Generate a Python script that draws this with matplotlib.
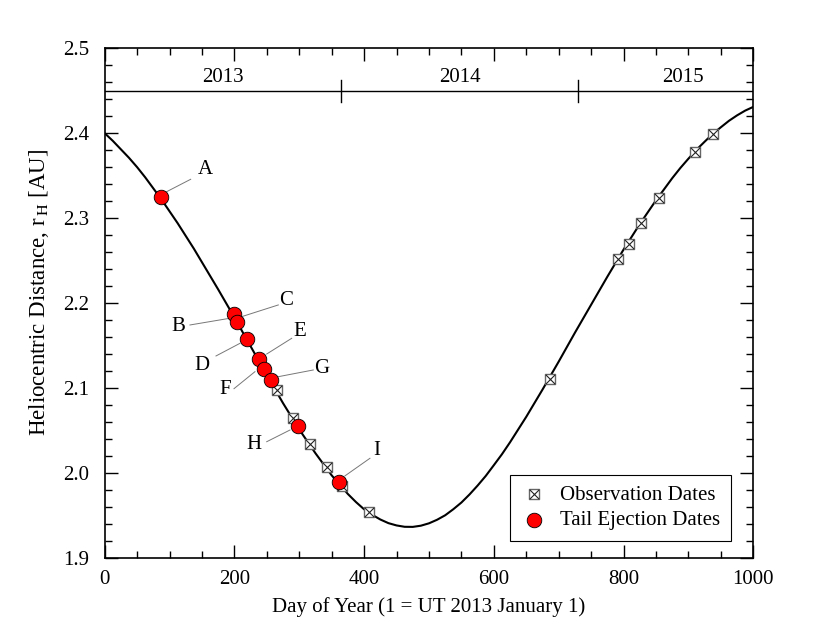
import numpy as np
import matplotlib
matplotlib.use('Agg')
import matplotlib.pyplot as plt
from matplotlib.ticker import MultipleLocator, FormatStrFormatter
from matplotlib.legend_handler import HandlerTuple

plt.rcParams['font.family'] = ['Liberation Serif', 'DejaVu Serif']
plt.rcParams['mathtext.fontset'] = 'stix'

# orbit curve
orbit_day = [0, 12.5, 25, 37.5, 50, 62.5, 75, 87.5, 100, 112.5, 125, 137.5,
             150, 162.5, 175, 200, 225, 250, 275, 300, 325, 350, 375, 387.5,
             400, 412.5, 425, 437.5, 450, 462.5, 475, 487.5, 500, 512.5, 525,
             537.5, 550, 562.5, 575, 587.5, 600, 612.5, 625, 650, 675, 700,
             725, 750, 775, 800, 825, 850, 875, 887.5, 900, 912.5, 925, 937.5,
             950, 962.5, 975, 987.5, 1000]
orbit_r = [2.400, 2.391, 2.381, 2.371, 2.360, 2.348, 2.335, 2.322, 2.308,
           2.294, 2.279, 2.264, 2.248, 2.232, 2.216, 2.183, 2.149, 2.115,
           2.082, 2.051, 2.023, 1.997, 1.975, 1.9655, 1.957, 1.9505, 1.945,
           1.9407, 1.938, 1.9364, 1.9363, 1.9377, 1.9405, 1.9447, 1.950,
           1.9571, 1.965, 1.9745, 1.985, 1.9963, 2.009, 2.0219, 2.036, 2.066,
           2.098, 2.131, 2.165, 2.198, 2.231, 2.263, 2.293, 2.321, 2.347,
           2.359, 2.370, 2.3806, 2.390, 2.3992, 2.407, 2.4146, 2.421, 2.4266,
           2.431]

# observation dates
obs_day = [265.2, 290.8, 316.5, 342.3, 365.4, 407.5, 686.7,
           791.9, 808.3, 826.4, 854.2, 910.1, 938.3]
obs_r = [2.097, 2.065, 2.034, 2.0065, 1.984, 1.954, 2.110,
         2.2515, 2.270, 2.294, 2.324, 2.3775, 2.399]

# tail ejection dates
tail_names = ['A', 'B', 'C', 'D', 'E', 'F', 'G', 'H', 'I']
tail_day = [86.3, 199.4, 204.4, 219.9, 238.4, 246.1, 255.9, 298.0, 361.2]
tail_r = [2.325, 2.187, 2.178, 2.1576, 2.1337, 2.1226, 2.1093, 2.0551, 1.9888]

# label text positions and leader lines
label_x = [154.6, 113.5, 279.1, 150.5, 301.1, 185.5, 334.6, 230.7, 419.4]
label_y = [2.3567, 2.1721, 2.2035, 2.1258, 2.1662, 2.0984, 2.1223, 2.0328, 2.0260]
leader_x0 = [95.6, 131.5, 211.2, 171.6, 249.8, 199.4, 267.7, 249.8, 370.5]
leader_x1 = [132.6, 192.9, 267.7, 208.6, 288.3, 231.7, 321.6, 285.7, 409.0]
leader_y0 = [2.3311, 2.1741, 2.1839, 2.1376, 2.1399, 2.0991, 2.1132, 2.0366, 1.9964]
leader_y1 = [2.3457, 2.1820, 2.1977, 2.1525, 2.1584, 2.1191, 2.1211, 2.0504, 2.0171]

# year bar
year_edges = [365, 730]
year_names = ['2013', '2014', '2015']
year_x = [182.5, 547.5, 892]

FS = 15

fig = plt.figure(figsize=(8.3, 6.42), dpi=100)
ax = fig.add_axes([0.1261, 0.1313, 0.7815, 0.7935])

ax.plot(orbit_day, orbit_r, color='black', lw=1.5, zorder=2)

# leader lines + letters
for i in range(len(tail_names)):
    ax.plot([leader_x0[i], leader_x1[i]], [leader_y0[i], leader_y1[i]],
            color='#777777', lw=0.7, zorder=1)
    ax.text(label_x[i], label_y[i], tail_names[i], fontsize=FS,
            ha='center', va='center')

sq = ax.scatter(obs_day, obs_r, marker='s', s=60, facecolor='white',
                edgecolor='#666666', linewidths=1.0, zorder=3)
xx = ax.scatter(obs_day, obs_r, marker='x', s=45, color='#222222',
                linewidths=0.8, zorder=4)
circ = ax.scatter(tail_day, tail_r, marker='o', s=110, facecolor='red',
                  edgecolor='black', linewidths=0.6, zorder=5)

# year bar
ax.axhline(2.45, color='black', lw=1.0)
for xe in year_edges:
    ax.plot([xe, xe], [2.437, 2.463], color='black', lw=1.0)
for xn, name in zip(year_x, year_names):
    ax.text(xn, 2.465, name, fontsize=FS, ha='center', va='center')

ax.set_xlim(0, 1000)
ax.set_ylim(1.9, 2.5)
ax.xaxis.set_major_locator(MultipleLocator(200))
ax.xaxis.set_minor_locator(MultipleLocator(50))
ax.yaxis.set_major_locator(MultipleLocator(0.1))
ax.yaxis.set_minor_locator(MultipleLocator(0.02))
ax.yaxis.set_major_formatter(FormatStrFormatter('%.1f'))
ax.tick_params(which='both', direction='in', top=True, right=True, width=1.0)
ax.tick_params(which='major', length=9.5, labelsize=FS)
ax.tick_params(axis='x', which='major', pad=9)
ax.tick_params(axis='y', which='major', pad=11)
ax.tick_params(which='minor', length=5)
for s in ax.spines.values():
    s.set_linewidth(1.2)

ax.set_xlabel('Day of Year (1 = UT 2013 January 1)', fontsize=FS, labelpad=6)
ax.set_ylabel(r'Heliocentric Distance, r$_{\,\mathrm{H}}$ [AU]', fontsize=16.5)
ax.yaxis.set_label_coords(-0.083, 0.52)

leg = ax.legend([(sq, xx), circ], ['Observation Dates', 'Tail Ejection Dates'],
                handler_map={tuple: HandlerTuple(ndivide=1)},
                loc='lower right', bbox_to_anchor=(0.965, 0.033),
                borderaxespad=0, fontsize=FS, fancybox=False, framealpha=1,
                edgecolor='black', borderpad=0.5, labelspacing=0.3,
                handletextpad=0.6, handlelength=1.3)
leg.get_frame().set_linewidth(0.8)

fig.savefig('out.png', dpi=100)
